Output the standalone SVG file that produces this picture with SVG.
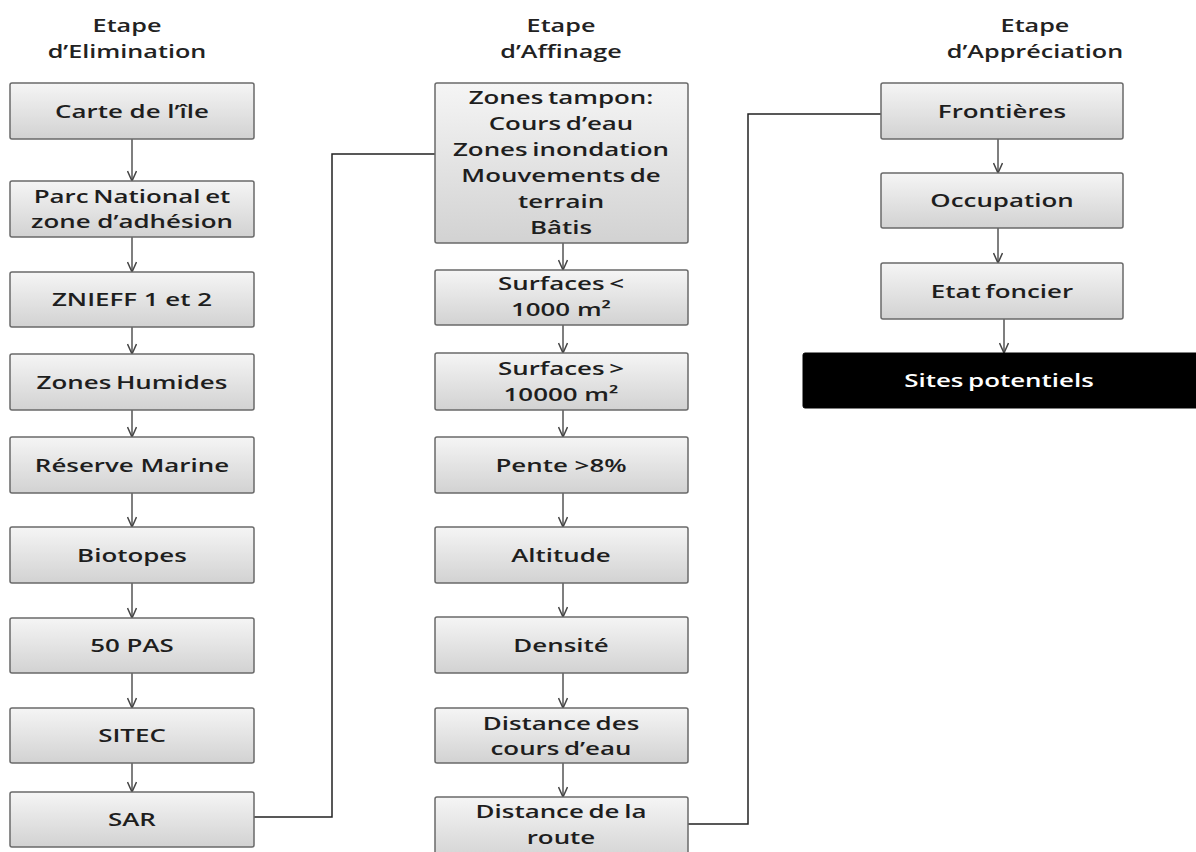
<svg xmlns="http://www.w3.org/2000/svg" width="1196" height="852" viewBox="0 0 1196 852">
<defs>
<linearGradient id="g" x1="0" y1="0" x2="0" y2="1">
<stop offset="0" stop-color="#f5f5f5"/>
<stop offset="1" stop-color="#d2d2d2"/>
</linearGradient>
<marker id="a" viewBox="0 0 12 10" refX="11" refY="5" markerWidth="12" markerHeight="10" markerUnits="userSpaceOnUse" orient="auto">
<path d="M1,0.5 L11,5 L1,9.5" fill="none" stroke="#444" stroke-width="1.5"/>
</marker>
<style>
.b{fill:url(#g);stroke:#6a6a6a;stroke-width:1.5}
.k{fill:#000;stroke:#000}
.t{font-family:"Open Sans","DejaVu Sans",sans-serif;font-weight:600;font-size:18.5px;fill:#1e1e1e;text-anchor:middle;transform-box:fill-box;transform-origin:center;transform:scaleX(1.4)}
.tight{word-spacing:-1.5px}
.w{fill:#fff}
.h{font-family:"Open Sans","DejaVu Sans",sans-serif;font-weight:600;font-size:18px;fill:#222;text-anchor:middle;transform-box:fill-box;transform-origin:center;transform:scaleX(1.4)}
.ar{stroke:#555;stroke-width:1.5;fill:none;marker-end:url(#a)}
.cn{stroke:#222;stroke-width:1.5;fill:none}
</style>
</defs>
<rect width="1196" height="852" fill="#fff"/>
<g id="headers">
<text class="h" x="127" y="32">Etape</text>
<text class="h" x="127" y="58">d’Elimination</text>
<text class="h" x="561" y="32">Etape</text>
<text class="h" x="561" y="58">d’Affinage</text>
<text class="h" x="1035" y="32">Etape</text>
<text class="h" x="1035" y="58">d’Appréciation</text>
</g>
<g id="connectors">
<line class="ar" x1="132" y1="139" x2="132" y2="181"/>
<line class="ar" x1="132" y1="237" x2="132" y2="272"/>
<line class="ar" x1="132" y1="327" x2="132" y2="354"/>
<line class="ar" x1="132" y1="410" x2="132" y2="437"/>
<line class="ar" x1="132" y1="493" x2="132" y2="527"/>
<line class="ar" x1="132" y1="583" x2="132" y2="618"/>
<line class="ar" x1="132" y1="673" x2="132" y2="708"/>
<line class="ar" x1="132" y1="763" x2="132" y2="792"/>
<line class="ar" x1="563" y1="243" x2="563" y2="270"/>
<line class="ar" x1="563" y1="325" x2="563" y2="353"/>
<line class="ar" x1="563" y1="410" x2="563" y2="437"/>
<line class="ar" x1="563" y1="493" x2="563" y2="527"/>
<line class="ar" x1="563" y1="583" x2="563" y2="617"/>
<line class="ar" x1="563" y1="673" x2="563" y2="708"/>
<line class="ar" x1="563" y1="763" x2="563" y2="797"/>
<line class="ar" x1="998" y1="139" x2="998" y2="173"/>
<line class="ar" x1="998" y1="228" x2="998" y2="263"/>
<line class="ar" x1="1004" y1="319" x2="1004" y2="353"/>
<path class="cn" d="M254,817 H332 V154 H435"/>
<path class="cn" d="M688,824 H748 V114 H881"/>
</g>
<g id="n1"><rect class="b" x="10" y="83" width="244" height="56" rx="2"/><text class="t" x="132" y="118">Carte de l’île</text></g>
<g id="n2"><rect class="b" x="10" y="181" width="244" height="56" rx="2"/><text class="t tight" x="132" y="203">Parc National et</text><text class="t" x="132" y="228">zone d’adhésion</text></g>
<g id="n3"><rect class="b" x="10" y="272" width="244" height="55" rx="2"/><text class="t" x="132" y="306.5">ZNIEFF 1 et 2</text></g>
<g id="n4"><rect class="b" x="10" y="354" width="244" height="56" rx="2"/><text class="t tight" x="132" y="389">Zones Humides</text></g>
<g id="n5"><rect class="b" x="10" y="437" width="244" height="56" rx="2"/><text class="t" x="132" y="472">Réserve Marine</text></g>
<g id="n6"><rect class="b" x="10" y="527" width="244" height="56" rx="2"/><text class="t" x="132" y="562">Biotopes</text></g>
<g id="n7"><rect class="b" x="10" y="618" width="244" height="55" rx="2"/><text class="t" x="132" y="652.5">50 PAS</text></g>
<g id="n8"><rect class="b" x="10" y="708" width="244" height="55" rx="2"/><text class="t" x="132" y="742.5">SITEC</text></g>
<g id="n9"><rect class="b" x="10" y="792" width="244" height="55" rx="2"/><text class="t" x="132" y="826.5">SAR</text></g>
<g id="m1"><rect class="b" x="435" y="83" width="253" height="160" rx="2"/>
<text class="t tight" x="561" y="104">Zones tampon:</text>
<text class="t tight" x="561" y="130">Cours d’eau</text>
<text class="t tight" x="561" y="156">Zones inondation</text>
<text class="t tight" x="561" y="182">Mouvements de</text>
<text class="t" x="561" y="208">terrain</text>
<text class="t" x="561" y="234">Bâtis</text></g>
<g id="m2"><rect class="b" x="435" y="270" width="253" height="55" rx="2"/><text class="t tight" x="561" y="290">Surfaces &lt;</text><text class="t" x="561" y="316">1000 m²</text></g>
<g id="m3"><rect class="b" x="435" y="353" width="253" height="57" rx="2"/><text class="t tight" x="561" y="375">Surfaces &gt;</text><text class="t" x="561" y="401">10000 m²</text></g>
<g id="m4"><rect class="b" x="435" y="437" width="253" height="56" rx="2"/><text class="t" x="561" y="472">Pente &gt;8%</text></g>
<g id="m5"><rect class="b" x="435" y="527" width="253" height="56" rx="2"/><text class="t" x="561" y="562">Altitude</text></g>
<g id="m6"><rect class="b" x="435" y="617" width="253" height="56" rx="2"/><text class="t" x="561" y="652">Densité</text></g>
<g id="m7"><rect class="b" x="435" y="708" width="253" height="55" rx="2"/><text class="t tight" x="561" y="730">Distance des</text><text class="t tight" x="561" y="755">cours d’eau</text></g>
<g id="m8"><rect class="b" x="435" y="797" width="253" height="65" rx="2"/><text class="t tight" x="561" y="818">Distance de la</text><text class="t" x="561" y="844">route</text></g>
<g id="r1"><rect class="b" x="881" y="83" width="242" height="56" rx="2"/><text class="t" x="1002" y="118">Frontières</text></g>
<g id="r2"><rect class="b" x="881" y="173" width="242" height="55" rx="2"/><text class="t" x="1002" y="207.5">Occupation</text></g>
<g id="r3"><rect class="b" x="881" y="263" width="242" height="56" rx="2"/><text class="t tight" x="1002" y="298">Etat foncier</text></g>
<g id="r4"><rect class="k" x="803" y="353" width="400" height="55" rx="2"/><text class="t w tight" x="999" y="387">Sites potentiels</text></g>
</svg>
